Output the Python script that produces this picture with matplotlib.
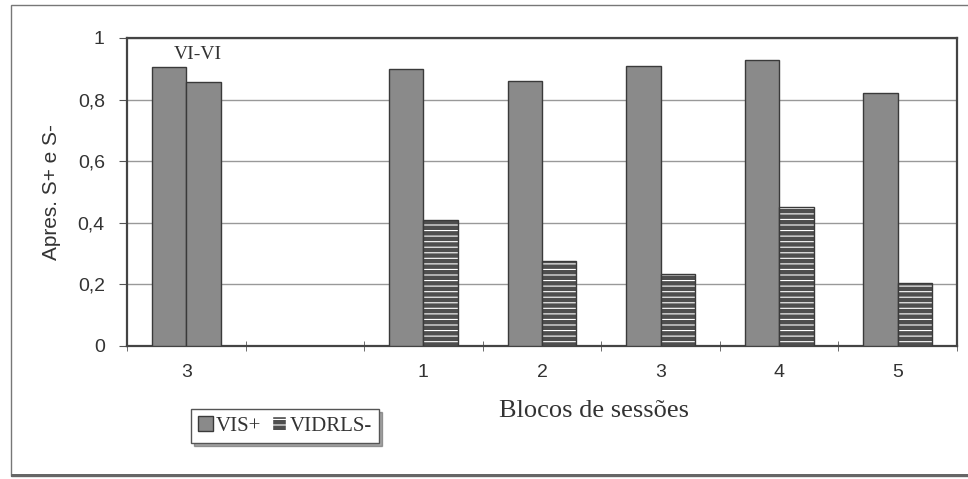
import matplotlib
matplotlib.use("Agg")
import matplotlib.pyplot as plt
from matplotlib.patches import Rectangle, Patch
import numpy as np

# Block labels (the second slot is an empty spacer between phases)
categories = ["3", "", "1", "2", "3", "4", "5"]
# VI-VI baseline block: both components reinforced
baseline_values = [0.905, 0.856]
# Discrimination blocks
vis_plus = [0.899, 0.862, 0.908, 0.928, 0.820]
vidrls_minus = [0.408, 0.275, 0.235, 0.450, 0.205]

yticks = [0, 0.2, 0.4, 0.6, 0.8, 1.0]
ytick_labels = ["0", "0,2", "0,4", "0,6", "0,8", "1"]

solid_gray = "#8a8a8a"
edge = "#3a3a3a"
stripe_bg = "#4e4e4e"

serif = ["Liberation Serif", "DejaVu Serif"]
sans = ["Liberation Sans", "DejaVu Sans"]
text_color = "#333333"

plt.rcParams["hatch.linewidth"] = 0.8

fig = plt.figure(figsize=(9.68, 4.79), dpi=100)
W, H = 968, 479

# outer chart frame with a shadow along the bottom
fig.patches.append(Rectangle((11 / W, 1 - 476 / H), (975 - 11) / W, (476 - 5) / H,
                             transform=fig.transFigure, fill=False,
                             edgecolor="#777777", linewidth=1.0))
fig.patches.append(Rectangle((11 / W, 1 - 477 / H), (975 - 11) / W, 3 / H,
                             transform=fig.transFigure, facecolor="#666666",
                             edgecolor="none"))

ax = fig.add_axes([127 / W, 1 - 346 / H, (957 - 127) / W, (346 - 38) / H])

x = np.arange(len(categories))
bw = 0.29

# baseline block: two solid bars
ax.bar([x[0] - bw / 2, x[0] + bw / 2], baseline_values, width=bw,
       color=solid_gray, edgecolor=edge, linewidth=1.0, zorder=3)

# discrimination blocks
xd = x[2:]
ax.bar(xd - bw / 2, vis_plus, width=bw, color=solid_gray, edgecolor=edge,
       linewidth=1.0, zorder=3)
ax.bar(xd + bw / 2, vidrls_minus, width=bw, color=stripe_bg, edgecolor="white",
       hatch="---", linewidth=0, zorder=3)
ax.bar(xd + bw / 2, vidrls_minus, width=bw, fill=False, edgecolor=edge,
       linewidth=1.0, zorder=4)

ax.text(x[0] + 0.1, 0.945, "VI-VI", ha="center", va="center",
        family=serif, fontsize=14, color=text_color)

ax.set_xlim(-0.5, len(categories) - 0.5)
ax.set_ylim(0, 1)
ax.set_yticks(yticks)
ax.set_yticklabels(ytick_labels, family=sans, fontsize=14, color=text_color)
ax.set_xticks(x)
ax.set_xticklabels(categories, family=sans, fontsize=14, color=text_color)
ax.tick_params(axis="x", length=0, pad=13)
ax.set_xticks(np.arange(len(categories) + 1) - 0.5, minor=True)
ax.tick_params(axis="x", which="minor", length=7, direction="inout", color="#555555")
ax.tick_params(axis="y", length=6, direction="out", color="#555555", pad=10)

ax.yaxis.grid(True, color="#999999", linewidth=1.0, zorder=0)
ax.set_axisbelow(True)
for s in ax.spines.values():
    s.set_color("#444444")
    s.set_linewidth(1.6)

ax.set_ylabel("Apres. S+ e S-", family=sans, fontsize=15, color=text_color, labelpad=12)
fig.text(594 / W, 1 - 411 / H, "Blocos de sessões", ha="center", va="center",
         family=serif, fontsize=19, color=text_color)

# legend
handles = [Patch(facecolor=solid_gray, edgecolor=edge, label="VIS+"),
           Patch(facecolor=stripe_bg, edgecolor="white", hatch="---", label="VIDRLS-")]
leg = fig.legend(handles=handles, loc="center", bbox_to_anchor=(285 / W, 1 - 426 / H),
                 ncol=2, prop={"family": serif, "size": 15}, frameon=True,
                 fancybox=False, shadow=True, handlelength=0.7, handleheight=0.7,
                 handletextpad=0.15, columnspacing=0.5, borderpad=0.35)
leg.get_frame().set_edgecolor("#555555")
leg.get_frame().set_linewidth(1.0)
for t in leg.get_texts():
    t.set_color(text_color)

fig.savefig("out.png", dpi=100)
